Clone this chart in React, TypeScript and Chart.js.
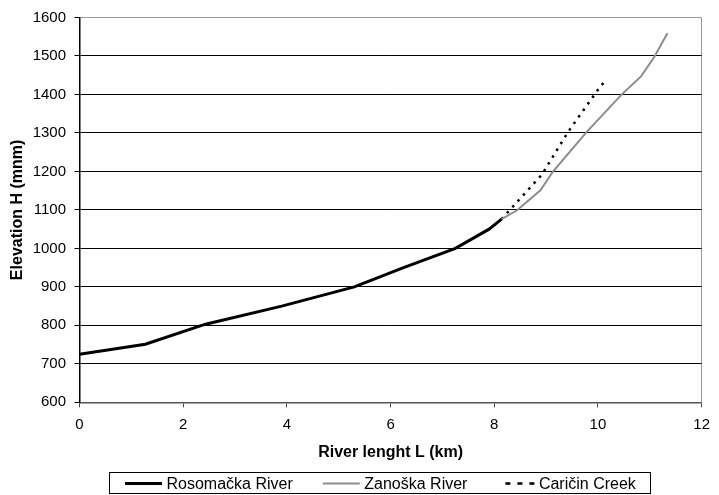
import React, { useEffect, useRef } from "react";
import { Chart, registerables } from "chart.js";
Chart.register(...registerables);

// River length L (km) and elevation H (mnm)
const rosomackaL = [0, 1.27, 2.43, 3.9, 5.3, 6.25, 7.25, 7.9, 8.14];
const rosomackaH = [725, 751, 803, 850, 900, 950, 1000, 1050, 1076];

const zanoskaL = [8.14, 8.44, 8.89, 9.14, 9.78, 10.45, 10.83, 11.08, 11.34];
const zanoskaH = [1076, 1099, 1151, 1201, 1302, 1399, 1447, 1496, 1559];

const caricinL = [8.14, 8.92, 9.43, 10.0, 10.14];
const caricinH = [1076, 1192, 1304, 1412, 1436];

const seriesNames = ["Rosomačka River", "Zanoška River", "Caričin Creek"];
const xTitle = "River lenght L (km)";
const yTitle = "Elevation H (mnm)";
const FONT = "'Liberation Sans', Arial, sans-serif";

const toXY = (xs: number[], ys: number[]) => xs.map((x, i) => ({ x, y: ys[i] }));

// Excel-style boxed legend drawn on the chart canvas from the datasets
const boxedLegend = {
  id: "boxedLegend",
  afterDraw(chart: any) {
    const ctx = chart.ctx;
    const ds = chart.data.datasets;
    ctx.save();
    ctx.font = `16px ${FONT}`;
    const sample = 37;
    const gapText = 4.5;
    const gapItem = 30;
    const padL = 15.5;
    const padR = 15;
    const widths = ds.map((d: any) => ctx.measureText(d.label).width);
    let total = padL + padR;
    widths.forEach((w: number, i: number) => {
      total += sample + gapText + w + (i < widths.length - 1 ? gapItem : 0);
    });
    const centerX = 380;
    const left = Math.round(centerX - total / 2) + 0.5;
    const top = 472.5;
    const bottom = 493.5;
    const midY = 483.5;
    ctx.strokeStyle = "#000";
    ctx.lineWidth = 1;
    ctx.strokeRect(left, top, Math.round(total), bottom - top);
    let x = left + padL;
    ds.forEach((d: any, i: number) => {
      ctx.beginPath();
      ctx.strokeStyle = d.borderColor;
      ctx.lineWidth = d.borderWidth;
      if (d.borderDash && d.borderDash.length) {
        ctx.setLineDash([5, 7]);
        ctx.moveTo(x + 8, midY);
      } else {
        ctx.setLineDash([]);
        ctx.moveTo(x, midY);
      }
      ctx.lineTo(x + sample, midY);
      ctx.stroke();
      ctx.setLineDash([]);
      ctx.fillStyle = "#000";
      ctx.textBaseline = "middle";
      ctx.textAlign = "left";
      ctx.fillText(d.label, x + sample + gapText, midY + 1);
      x += sample + gapText + widths[i] + gapItem;
    });
    ctx.restore();
  },
};

export default function App() {
  const ref = useRef<HTMLCanvasElement>(null);
  useEffect(() => {
    if (!ref.current) return;
    Chart.defaults.font.family = FONT;
    Chart.defaults.color = "#000";
    const chart = new Chart(ref.current, {
      type: "line",
      data: {
        datasets: [
          {
            label: seriesNames[0],
            data: toXY(rosomackaL, rosomackaH),
            borderColor: "#000",
            backgroundColor: "#000",
            borderWidth: 3,
            pointRadius: 0,
            tension: 0,
            order: 0,
          },
          {
            label: seriesNames[1],
            data: toXY(zanoskaL, zanoskaH),
            borderColor: "#8c8c8c",
            backgroundColor: "#8c8c8c",
            borderWidth: 2,
            pointRadius: 0,
            tension: 0,
            order: 1,
          },
          {
            label: seriesNames[2],
            data: toXY(caricinL, caricinH),
            borderColor: "#000",
            backgroundColor: "#000",
            borderWidth: 2.5,
            borderDash: [2.5, 5.5],
            pointRadius: 0,
            tension: 0,
            order: 2,
          },
        ],
      },
      options: {
        animation: false,
        responsive: false,
        layout: { padding: { top: 15.7, right: 11, left: 0, bottom: 30 } },
        plugins: {
          tooltip: { enabled: false },
          legend: { display: false },
        },
        scales: {
          x: {
            type: "linear",
            min: 0,
            max: 12,
            afterFit: (s: any) => {
              s.height = 62.7;
            },
            ticks: {
              stepSize: 2,
              color: "#000",
              padding: 9,
              font: { size: 15 },
              callback: (v: any) => String(v),
            },
            grid: {
              color: (c: any) => (c.tick && c.tick.value === 12 ? "#9a9a9a" : "rgba(0,0,0,0)"),
              tickColor: "#444",
              tickLength: 5,
              lineWidth: 1,
            },
            border: { color: "#555", width: 1.5 },
            title: {
              display: true,
              text: xTitle,
              font: { size: 16, weight: "bold" },
              color: "#000",
              padding: { top: 0, bottom: 2.4 },
            },
          },
          y: {
            type: "linear",
            min: 600,
            max: 1600,
            afterFit: (s: any) => {
              s.width = 79.5;
            },
            ticks: {
              stepSize: 100,
              color: "#000",
              padding: 8.5,
              font: { size: 15 },
              callback: (v: any) => String(v),
            },
            grid: {
              color: (c: any) => (c.tick && c.tick.value === 1600 ? "#9a9a9a" : "#000"),
              tickColor: "#000",
              tickLength: 5,
              lineWidth: 1,
            },
            border: { color: "#000", width: 1.5 },
            title: {
              display: true,
              text: yTitle,
              font: { size: 16, weight: "bold" },
              color: "#000",
              padding: { top: 7.9, bottom: 0 },
            },
          },
        },
      },
      plugins: [boxedLegend],
    } as any);
    return () => chart.destroy();
  }, []);
  return (
    <div style={{ position: "fixed", left: 0, top: 0, width: 719, height: 495, background: "#fff" }}>
      <canvas ref={ref} width={719} height={495} />
    </div>
  );
}
